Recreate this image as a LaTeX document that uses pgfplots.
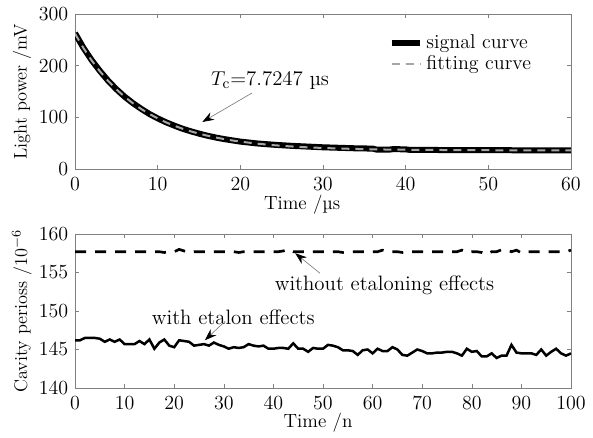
\documentclass[border=0pt]{standalone}
\usepackage{pgfplots}
\pgfplotsset{compat=1.18}
\usetikzlibrary{arrows.meta}
\begin{document}
\begin{tikzpicture}
\useasboundingbox (0,0) rectangle (355.8pt,262.2pt);
\pgfplotsset{
  myax/.style={
    scale only axis,
    width=297.6pt,
    anchor=south west,
    font=\fontsize{11}{13.5}\selectfont,
    axis line style={gray},
    tick style={gray},
    major tick length=2.4pt,
    tick align=inside,
    tick label style={font=\fontsize{12}{14}\selectfont},
    xticklabel style={yshift=-1.5pt},
    yticklabel style={xshift=-0.5pt},
    ylabel style={at={(axis description cs:-0.107,0.5)}, rotate=0, anchor=center},
  }
}
\begin{axis}[myax,
  at={(45pt,160.8pt)}, height=93pt,
  xmin=0, xmax=60, ymin=0, ymax=300,
  xtick={0,10,...,60}, ytick={0,100,200,300},
  xlabel={Time /µs},
  xlabel style={at={(axis description cs:0.458,-0.232)}, anchor=center, font=\fontsize{11.5}{13.5}\selectfont},
  ylabel={Light power /mV},
  legend style={draw=none, fill=none, at={(0.93,0.9)}, anchor=north east, inner sep=1pt, row sep=-1.5pt, font=\fontsize{12}{14}\selectfont},
  legend cell align=left,
]
\addplot[black, line width=3.6pt] coordinates {
(0,263) (0.5,249) (1,235) (2,211) (3,190) (4,171) (5,154.5) (6,140) (7,127.5)
(8,116.5) (9,106.5) (10,98) (11,90.5) (12,84) (13,78) (14,73) (15,68.5)
(16,64.5) (17,61) (18,58) (19,55.5) (20,53) (22,49.5) (24,47) (26,45)
(28,43.5) (30,42) (32,41) (34,40) (36,39.5) (36.5,37.5) (38,37.5) (38.5,38.5)
(40,38) (40.5,37) (45,36.7) (50,36.4) (55,36.2) (60,36.1)
};
\addlegendentry{signal curve}
\addplot[gray!70, line width=1.2pt, dash pattern=on 4.8pt off 3.6pt] coordinates {
(0,262.0) (1,234.6) (2,210.4) (3,189.3) (4,170.7) (5,154.3) (6,139.9) (7,127.3)
(8,116.2) (9,106.5) (10,98.0) (11,90.4) (12,83.8) (13,78.0) (14,72.9) (15,68.4)
(16,64.5) (17,61.0) (18,58.0) (19,55.3) (20,53.0) (22,49.1) (24,46.1) (26,43.8)
(28,42.0) (30,40.7) (32,39.6) (34,38.8) (36,38.1) (38,37.6) (40,37.3) (45,36.7)
(50,36.3) (55,36.2) (60,36.1)
};
\addlegendentry{fitting curve}
\node[anchor=center, font=\fontsize{12.5}{14}\selectfont] at (axis cs:23.6,172) {$T_{\mathrm{c}}$=7.7247 µs};
\draw[gray, line width=0.4pt, -{Stealth[length=7pt,width=5pt,black]}] (axis cs:21.4,147) -- (axis cs:15.4,91);
\end{axis}
\begin{axis}[myax,
  at={(45pt,29.4pt)}, height=92.4pt,
  xmin=0, xmax=100, ymin=140, ymax=160,
  xtick={0,10,...,100}, ytick={140,145,...,160},
  xlabel={Time /n},
  xlabel style={at={(axis description cs:0.49,-0.227)}, anchor=center, font=\fontsize{11.5}{13.5}\selectfont},
  ylabel={Cavity perioss /10$^{-6}$},
]
\addplot[black, line width=1.6pt, dash pattern=on 6.6pt off 5.4pt] coordinates {
(0,157.7) (1,157.7) (2,157.7) (3,157.7) (4,157.7) (5,157.7) (6,157.7) (7,157.7) (8,157.7) (9,157.7)
(10,157.7) (11,157.7) (12,157.7) (13,157.7) (14,157.7) (15,157.7) (16,157.7) (17,157.7) (18,157.6) (19,157.7)
(20,157.7) (21,158.0) (22,157.8) (23,157.6) (24,157.7) (25,157.7) (26,157.7) (27,157.7) (28,157.7) (29,157.7)
(30,157.7) (31,157.7) (32,157.7) (33,157.6) (34,157.7) (35,157.7) (36,157.7) (37,157.7) (38,157.7) (39,157.7)
(40,157.7) (41,157.7) (42,157.8) (43,158.0) (44,157.7) (45,157.7) (46,157.7) (47,157.7) (48,157.7) (49,157.7)
(50,157.7) (51,157.7) (52,157.7) (53,157.7) (54,157.6) (55,157.7) (56,157.7) (57,157.7) (58,157.7) (59,157.7)
(60,157.7) (61,157.7) (62,157.9) (63,157.7) (64,157.7) (65,157.7) (66,157.6) (67,157.7) (68,157.7) (69,157.7)
(70,157.7) (71,157.7) (72,157.7) (73,157.7) (74,157.7) (75,157.7) (76,157.7) (77,157.7) (78,157.9) (79,157.6)
(80,157.7) (81,157.7) (82,157.6) (83,157.35) (84,157.7) (85,157.7) (86,157.95) (87,157.9) (88,157.7) (89,157.9)
(90,157.55) (91,157.7) (92,157.7) (93,157.7) (94,157.7) (95,157.7) (96,157.7) (97,157.7) (98,157.7) (99,157.7)
(100,157.9)
};
\addplot[black, line width=1.5pt] coordinates {
(0,146.2) (1,146.2) (2,146.5) (3,146.5) (4,146.5) (5,146.4) (6,146.0) (7,146.3) (8,146.0) (9,146.3)
(10,145.7) (11,145.7) (12,145.7) (13,146.1) (14,145.7) (15,146.3) (16,145.1) (17,145.9) (18,146.3) (19,145.5)
(20,145.3) (21,146.2) (22,146.1) (23,146.0) (24,145.5) (25,145.6) (26,145.7) (27,145.5) (28,145.9) (29,145.6)
(30,145.4) (31,145.1) (32,145.3) (33,145.2) (34,145.3) (35,145.7) (36,145.5) (37,145.4) (38,145.5) (39,145.1)
(40,145.1) (41,145.2) (42,145.2) (43,145.1) (44,145.8) (45,145.1) (46,145.1) (47,144.7) (48,145.2) (49,145.1)
(50,145.1) (51,145.6) (52,145.5) (53,145.3) (54,144.9) (55,144.9) (56,144.8) (57,144.3) (58,144.9) (59,145.0)
(60,144.5) (61,145.1) (62,144.8) (63,144.8) (64,145.3) (65,145.0) (66,144.3) (67,144.2) (68,144.6) (69,145.0)
(70,144.8) (71,144.5) (72,144.5) (73,144.6) (74,144.6) (75,144.7) (76,144.7) (77,144.5) (78,144.2) (79,145.1)
(80,144.7) (81,144.8) (82,144.1) (83,144.1) (84,144.5) (85,143.9) (86,144.2) (87,144.2) (88,145.6) (89,144.6)
(90,144.5) (91,144.5) (92,144.5) (93,144.3) (94,145.0) (95,144.2) (96,144.7) (97,145.1) (98,144.5) (99,144.2)
(100,144.5)
};
\node[anchor=center, font=\fontsize{12.5}{14}\selectfont] at (axis cs:62.4,153.4) {without etaloning effects};
\draw[gray, line width=0.4pt, -{Stealth[length=7pt,width=5pt,black]}] (axis cs:49.4,154.9) -- (axis cs:44.4,157.5);
\node[anchor=center, font=\fontsize{12.5}{14}\selectfont] at (axis cs:31.9,149.2) {with etalon effects};
\draw[gray, line width=0.4pt, -{Stealth[length=7pt,width=5pt,black]}] (axis cs:29.8,148.4) -- (axis cs:26.2,146.2);
\end{axis}
\end{tikzpicture}
\end{document}
